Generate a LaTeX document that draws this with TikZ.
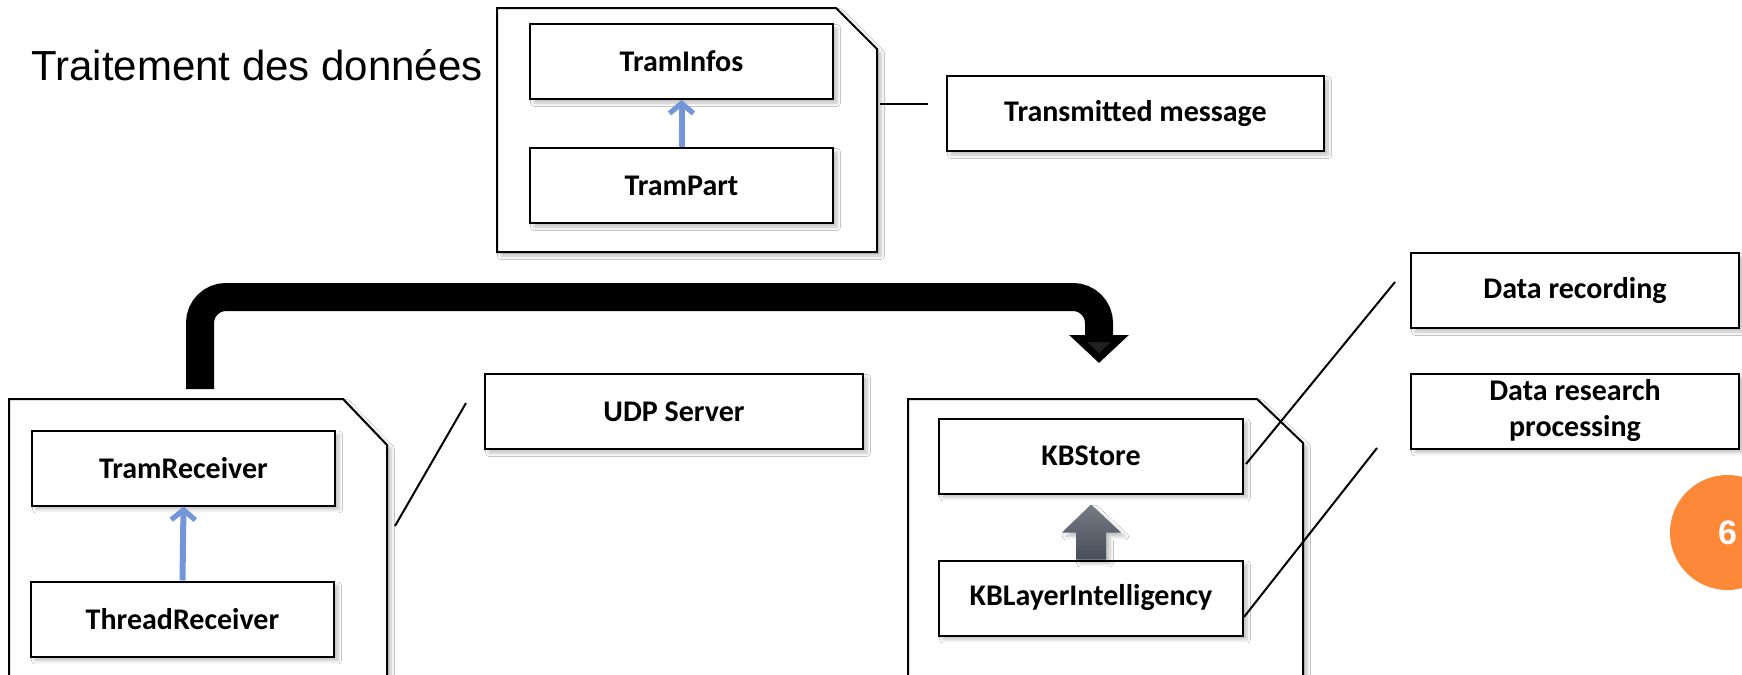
\documentclass[tikz,border=0pt]{standalone}
\usepackage{fontspec}
\usepackage{tikz}
\usetikzlibrary{arrows.meta, positioning, calc, shadows.blur}
\newfontfamily\boxfont{Carlito}
\newfontfamily\arialfont{Liberation Sans}
\definecolor{umlblue}{RGB}{116,150,216}
\definecolor{slate}{RGB}{72,78,90}
\definecolor{badge}{RGB}{252,136,56}

\tikzset{
  soft/.style={blur shadow={shadow xshift=2pt, shadow yshift=-2pt, shadow blur steps=6, shadow opacity=25}},
  cls/.style={draw, line width=1pt, fill=white, soft, minimum width=151.5pt, minimum height=37.5pt,
    inner sep=2pt, font=\boxfont\bfseries\fontsize{15}{18}\selectfont, align=center},
  pkg/.style={draw, line width=1pt, fill=white, soft},
  lead/.style={line width=1pt},
  umlarrow/.style={draw=umlblue, line width=3pt, -{Straight Barb[length=5pt, width=12pt, line width=2.6pt]}},
}

\begin{document}
\begin{tikzpicture}[x=0.5pt, y=-0.5pt]
  \useasboundingbox (0,0) rectangle (1742,675);
  \fill[white] (0,0) rectangle (1742,675);
  % packages
  \draw[pkg] (497,8) -- (836,8) -- (877,49) -- (877,252) -- (497,252) -- cycle;
  \draw[pkg] (9,399) -- (343,399) -- (387,445) -- (387,700) -- (9,700) -- cycle;
  \draw[pkg] (908,399) -- (1257,399) -- (1303,443) -- (1303,700) -- (908,700) -- cycle;

  \node[anchor=base west, inner sep=0pt, font=\arialfont\fontsize{21}{25}\selectfont] (title) at (31,80) {Traitement des données};

  \node[cls] (traminfos) at (681.5,61.5) {TramInfos};
  \node[cls] (trampart) at (681.5,185.5) {TramPart};
  \node[cls, minimum width=188.5pt] (transmitted) at (1135.5,113.5) {Transmitted message};
  \node[cls, minimum width=189pt] (udp) at (674,411.5) {UDP Server};
  \node[cls] (tramreceiver) at (183.5,468) {TramReceiver};
  \node[cls] (threadreceiver) at (182.5,619) {ThreadReceiver};
  \node[cls, minimum width=152pt] (kbstore) at (1091,456) {KBStore};
  \node[cls, minimum width=152pt] (kblayer) at (1091,598) {KBLayerIntelligency};
  \node[cls, minimum width=164pt] (datarec) at (1575,290.5) {Data recording};
  \node[cls, minimum width=164pt] (datares) at (1575,411) {Data research\\processing};

  \draw[umlarrow] (trampart.north) -- (traminfos.south);
  \draw[umlarrow] (threadreceiver.north) -- (tramreceiver.south);

  % block arrow between KB classes
  \coordinate (kbfoot) at (kblayer.north);
  \shade[top color=slate!75, bottom color=slate, soft]
    ($(kbfoot)+(-15,0)$) -- ($(kbfoot)+(-15,-27)$) -- ($(kbfoot)+(-29,-27)$) -- ($(kbstore.south)+(0,10)$)
    -- ($(kbfoot)+(30,-27)$) -- ($(kbfoot)+(15,-27)$) -- ($(kbfoot)+(15,0)$) -- cycle;

  % leader lines
  \coordinate (msgtip) at (928,104);
  \coordinate (udptip) at (466,403);
  \coordinate (rectip) at (1395,282);
  \coordinate (restip) at (1377,448);
  \draw[lead] (880,104) -- (msgtip);
  \draw[lead] (395,526) -- (udptip);
  \draw[lead] ($(kbstore.east)+(2,8)$) -- (rectip);
  \draw[lead] ($(kblayer.east)+(0,19)$) -- (restip);

  % flow from receiver to store
  \coordinate (rxout) at (200,389);
  \coordinate (kbin) at (1099,363);
  \draw[line width=14pt, rounded corners=13pt, -{Triangle[width=29pt, length=14pt]}]
    (rxout) -- (200,297) -- (1099,297) -- (kbin);

  \node[circle, fill=badge, minimum size=57.5pt, inner sep=0pt, text=white,
    font=\arialfont\bfseries\fontsize{17}{20}\selectfont] (page) at (1727.5,532.5) {6};
\end{tikzpicture}
\end{document}
